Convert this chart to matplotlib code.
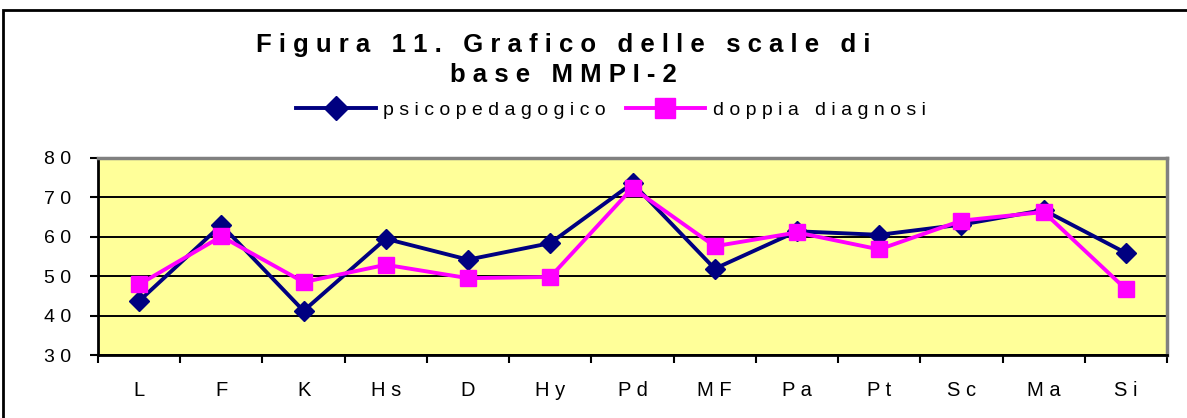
import matplotlib
matplotlib.use("Agg")
import matplotlib.pyplot as plt
from matplotlib.patches import Rectangle

SCALES = ["L", "F", "K", "Hs", "D", "Hy", "Pd", "MF", "Pa", "Pt", "Sc", "Ma", "Si"]
PSICOPED = [43.7, 63.0, 41.2, 59.5, 54.2, 58.4, 73.6, 51.9, 61.4, 60.5, 63.1, 66.8, 55.9]
DOPPIA = [47.9, 60.1, 48.5, 52.9, 49.5, 49.8, 72.4, 57.6, 61.1, 56.8, 64.1, 66.3, 46.7]
Y_TICKS = [30, 40, 50, 60, 70, 80]


def spaced(text):
    # the original chart uses wide letter spacing
    return " ".join(text)


plt.rcParams["font.family"] = ["Liberation Sans", "DejaVu Sans"]

fig = plt.figure(figsize=(11.87, 4.18), dpi=100)
ax = fig.add_axes([98 / 1187, 63 / 418, (1167 - 98) / 1187, (355 - 158) / 418])
ax.set_facecolor("#FFFF99")

x = list(range(len(SCALES)))
ax.plot(x, PSICOPED, "-D", color="#000080", linewidth=2.8, markersize=10,
        label=spaced("psicopedagogico"), zorder=3)
ax.plot(x, DOPPIA, "-s", color="#FF00FF", linewidth=2.8, markersize=11,
        label=spaced("doppia diagnosi"), zorder=4)

ax.set_xlim(-0.5, len(SCALES) - 0.5)
ax.set_ylim(30, 80)
ax.set_yticks(Y_TICKS)
ax.set_yticklabels([spaced(str(v)) for v in Y_TICKS], fontsize=14)
ax.set_xticks([i - 0.5 for i in range(len(SCALES) + 1)])
ax.set_xticklabels([])
ax.set_xticks(x, minor=True)
ax.set_xticklabels([spaced(s) for s in SCALES], minor=True, fontsize=14.5)
ax.tick_params(axis="x", which="major", length=6, width=1.5, direction="out")
ax.tick_params(axis="x", which="minor", length=0, pad=19)
ax.tick_params(axis="y", length=6, width=1.5, direction="out", pad=13)

ax.grid(axis="y", color="black", linewidth=1.4)
ax.set_axisbelow(True)
ax.spines["left"].set_linewidth(2)
ax.spines["bottom"].set_linewidth(2)
ax.spines["top"].set_color("#808080")
ax.spines["right"].set_color("#808080")
ax.spines["top"].set_linewidth(2.5)
ax.spines["right"].set_linewidth(2.5)

fig.text(563 / 1187, 1 - 52 / 418, spaced("Figura 11. Grafico delle scale di"),
         ha="center", va="baseline", fontsize=18.5, fontweight="bold")
fig.text(563 / 1187, 1 - 82 / 418, spaced("base MMPI-2"),
         ha="center", va="baseline", fontsize=18.5, fontweight="bold")

fig.legend(loc="center", bbox_to_anchor=(611 / 1187, 1 - 110 / 418), ncol=2,
           frameon=False, fontsize=14, handlelength=4.1, handletextpad=0.4,
           columnspacing=1.0, markerscale=1.25)

fig.patches.append(Rectangle((3 / 1187, -0.1), 1.2, 1.1 - 10 / 418,
                             transform=fig.transFigure, fill=False,
                             edgecolor="black", linewidth=2))

fig.savefig("out.png", dpi=100)
